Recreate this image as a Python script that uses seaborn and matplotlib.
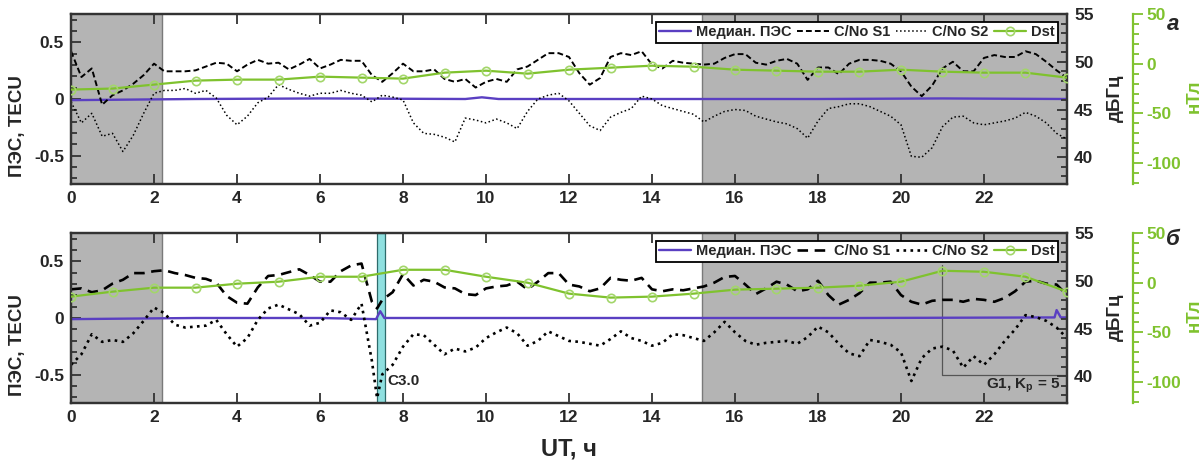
import numpy as np
import matplotlib
matplotlib.use("Agg")
import matplotlib.pyplot as plt
import seaborn as sns
from matplotlib.ticker import MultipleLocator

# ---------------------------
# Data
# ---------------------------
ut = np.arange(0, 24.01, 0.25)          # UT, hours (C/No samples)
ut_dst = np.arange(0, 25, 1)            # hourly Dst

# panel a, C/No in dB-Hz
s1_a = [51.1, 48.4, 49.3, 45.5, 46.5, 47.0, 47.7, 48.6, 49.8, 49.0, 49.0, 49.0, 49.1,
        49.5, 49.9, 49.8, 49.0, 49.7, 50.2, 49.8, 49.9, 49.2, 49.7, 50.3, 49.3,
        49.7, 50.2, 50.1, 50.1, 48.6, 47.9, 48.8, 49.8,
        49.0, 49.0, 49.2, 48.2, 47.9, 48.2, 47.3, 47.9, 48.2, 47.9, 49.2, 49.5,
        50.2, 50.9, 50.9, 50.5, 48.8, 47.6, 48.3, 50.5, 50.9, 50.7, 51.1, 49.7,
        49.3, 50.1, 49.9, 49.8, 49.7, 49.8, 50.4, 50.8,
        50.8, 49.9, 49.7, 50.1, 50.3, 49.8, 48.1, 49.4, 49.4, 48.7, 49.8, 50.2,
        50.2, 50.1, 49.8, 49.0, 47.4, 46.4, 47.5, 49.3, 50.0, 49.0, 49.0, 50.4,
        50.7, 50.5, 50.5, 51.1, 50.8, 50.0, 49.1, 48.3]
s2_a = [45.8, 43.6, 44.6, 42.2, 42.5, 40.6, 42.3, 44.6, 46.7, 47.0, 47.0, 47.2, 46.7,
        47.0, 46.2, 44.4, 43.4, 44.3, 45.7, 46.3, 47.6, 47.1, 46.7, 46.4, 46.7,
        46.7, 47.0, 46.7, 46.5, 45.8, 46.5, 46.3, 46.0,
        43.6, 42.5, 42.4, 42.1, 41.6, 44.1, 43.9, 43.6, 44.0, 43.6, 43.0, 44.8,
        46.1, 46.5, 46.7, 45.9, 44.6, 43.3, 42.8, 44.2, 44.7, 45.1, 46.4, 46.1,
        45.4, 45.1, 44.8, 44.5, 43.7, 44.3, 44.8, 45.0,
        44.9, 44.3, 44.0, 43.7, 43.5, 43.0, 42.0, 43.8, 45.1, 45.3, 45.6, 45.6,
        45.3, 44.8, 44.3, 43.4, 40.1, 40.0, 41.0, 43.2, 44.2, 44.3, 43.6, 43.4,
        43.6, 43.8, 44.1, 44.7, 44.3, 43.6, 42.5, 41.9]
dst_a = [-26, -25, -21, -17, -16, -16, -13, -14, -15, -9, -7, -10, -6, -4, -2, -3,
         -6, -7, -8, -8, -6, -8, -9, -9, -14]
med_t_a = [0, 3, 6, 9.5, 9.9, 10.3, 14, 18, 21, 24]
med_a = [-0.01, 0.0, 0.005, 0.0, 0.015, 0.0, 0.0, 0.0, 0.005, 0.0]

# panel b (one extra sample at 7.375 h for the C3.0 fade)
ut_b = np.insert(ut, 30, 7.375)
s1_b = [49.1, 49.2, 48.8, 49.0, 49.7, 50.1, 50.8, 50.8, 51.0, 51.1, 50.8, 50.6, 50.3,
        50.2, 49.8, 48.4, 47.7, 47.6, 49.3, 50.5, 50.6, 50.9, 51.2, 50.6, 49.9,
        49.9, 51.0, 51.6, 51.8, 47.8, 47.1, 48.0, 48.8, 50.7,
        49.5, 50.1, 49.9, 49.3, 49.2, 48.6, 48.5, 49.2, 49.4, 49.5, 49.9, 49.1,
        49.9, 50.8, 50.8, 49.6, 49.4, 48.9, 49.2, 50.3, 50.1, 50.0, 50.3, 49.1,
        48.9, 49.1, 49.0, 49.2, 49.4, 49.8, 50.4, 50.5,
        49.6, 48.6, 49.2, 49.9, 49.6, 48.9, 49.1, 50.0, 48.5, 47.5, 48.0, 48.7,
        49.8, 49.8, 49.9, 48.5, 47.8, 47.5, 47.9, 48.0, 48.0, 47.8, 48.1, 48.0,
        47.8, 48.2, 48.9, 49.9, 50.0, 49.7, 49.6, 48.5]
s2_b = [41.2, 42.3, 44.4, 43.6, 43.8, 43.6, 44.5, 45.8, 47.2, 46.6, 45.4, 45.1, 45.2,
        45.3, 45.9, 44.4, 43.1, 44.0, 45.9, 47.1, 47.5, 47.0, 46.5, 45.3, 45.6,
        46.9, 46.7, 45.9, 47.6, 41.6, 37.7, 40.2, 41.2, 43.1,
        44.4, 44.3, 43.3, 42.3, 42.9, 42.6, 43.0, 44.0, 44.6, 45.1, 44.5, 43.2,
        43.7, 44.7, 44.2, 43.7, 43.6, 43.4, 43.2, 43.9, 44.7, 44.0, 43.7, 43.2,
        43.5, 44.4, 44.3, 44.0, 43.7, 44.6, 45.7, 44.6,
        43.7, 43.3, 43.5, 43.6, 43.7, 43.4, 44.1, 45.2, 44.6, 43.4, 42.4, 42.1,
        43.8, 43.6, 43.3, 42.5, 39.5, 41.9, 42.9, 43.1, 42.7, 40.9, 42.1, 41.2,
        42.3, 43.7, 44.9, 46.4, 46.2, 45.8, 45.1, 44.0]
dst_b = [-14, -9, -5, -5, -1, 1, 6, 6, 13, 13, 6, 0, -11, -15, -14, -11, -7, -6, -5,
         -3, 1, 12, 11, 6, -9]
med_t_b = [0, 3, 6, 7.35, 7.45, 7.55, 7.7, 11, 15, 19, 23.7, 23.75, 23.85, 24]
med_b = [-0.01, 0.0, 0.0, -0.01, 0.06, 0.0, 0.0, 0.0, 0.0, 0.0, 0.005, 0.07, 0.005, 0.005]

night_1 = (0, 2.2)
night_2 = (15.2, 24)
c3_event = (7.37, 7.57)
g1_start = 21

# ---------------------------
# Style
# ---------------------------
sns.set_style("ticks")
plt.rcParams["font.family"] = ["Liberation Sans", "DejaVu Sans"]
plt.rcParams["font.weight"] = "bold"
plt.rcParams["axes.unicode_minus"] = False
plt.rcParams["mathtext.fontset"] = "custom"
plt.rcParams["mathtext.bf"] = "Liberation Sans:bold"
plt.rcParams["mathtext.rm"] = "Liberation Sans:bold"

GRAY = "#b4b4b4"
PURPLE = "#5a3fc2"
GREEN = "#7fc22e"
FRAME = "#333333"

fig = plt.figure(figsize=(12.04, 4.62), dpi=100)
ax_a = fig.add_axes([0.059, 0.6017, 0.8272, 0.368])
ax_b = fig.add_axes([0.059, 0.1277, 0.8272, 0.368])

panels = [
    (ax_a, ut, s1_a, s2_a, dst_a, med_t_a, med_a, (0, (3, 1.6)), 1.4, 1.1, 0.0),
    (ax_b, ut_b, s1_b, s2_b, dst_b, med_t_b, med_b, (0, (4, 2.5)), 1.9, 1.9, 219 / 462),
]

for ax, t, s1, s2, dst, mt, med, s1_ls, s1_lw, s2_lw, dy in panels:
    # night shading
    ax.axvspan(*night_1, color=GRAY, lw=0, zorder=0)
    ax.axvspan(*night_2, color=GRAY, lw=0, zorder=0)
    ax.axvline(night_1[1], color="#7a7a7a", lw=1.0, zorder=0.5)
    ax.axvline(night_2[0], color="#7a7a7a", lw=1.0, zorder=0.5)

    # median TEC (left axis)
    sns.lineplot(x=mt, y=med, ax=ax, color=PURPLE, lw=1.7, legend=False)
    med_line = ax.lines[-1]
    ax.set_xlim(0, 24)
    ax.set_ylim(-0.75, 0.75)
    ax.set_xticks(range(0, 24, 2))
    ax.set_yticks([-0.5, 0, 0.5])
    ax.set_yticklabels(["-0.5", "0", "0.5"])
    ax.yaxis.set_minor_locator(MultipleLocator(0.1))
    ax.tick_params(which="both", direction="in", top=True, right=False,
                   width=1.3, labelsize=12.5, color=FRAME)
    ax.tick_params(which="major", length=7, pad=5)
    ax.tick_params(which="minor", length=4)
    ax.set_xlabel("")
    ax.set_ylabel("")
    for sp in ax.spines.values():
        sp.set_color(FRAME)
        sp.set_linewidth(1.6)

    # C/No (right axis)
    ax2 = ax.twinx()
    sns.lineplot(x=t, y=s1, ax=ax2, color="black", lw=s1_lw, linestyle=s1_ls, legend=False)
    s1_line = ax2.lines[-1]
    sns.lineplot(x=t, y=s2, ax=ax2, color="black", lw=s2_lw, linestyle=":", legend=False)
    s2_line = ax2.lines[-1]
    ax2.set_ylim(37.2, 55)
    ax2.set_yticks([40, 45, 50, 55])
    ax2.yaxis.set_minor_locator(MultipleLocator(1))
    ax2.tick_params(which="both", direction="in", width=1.3, labelsize=12.5, color=FRAME)
    ax2.tick_params(which="major", length=7, pad=5)
    ax2.tick_params(which="minor", length=4)
    ax2.set_ylabel("")
    for sp in ax2.spines.values():
        sp.set_color(FRAME)
        sp.set_linewidth(1.6)

    # Dst (far right axis)
    ax3 = ax.twinx()
    sns.lineplot(x=ut_dst, y=dst, ax=ax3, color=GREEN, lw=1.6, marker="o",
                 markersize=6, markerfacecolor="none", markeredgecolor="#a3d66a",
                 markeredgewidth=1.2, legend=False)
    dst_line = ax3.lines[-1]
    ax3.set_ylim(-121, 50)
    ax3.set_yticks([-100, -50, 0, 50])
    ax3.yaxis.set_minor_locator(MultipleLocator(10))
    ax3.spines["right"].set_position(("axes", 1.066))
    for name, sp in ax3.spines.items():
        sp.set_visible(name == "right")
    ax3.spines["right"].set_color(GREEN)
    ax3.spines["right"].set_linewidth(1.6)
    ax3.tick_params(which="both", direction="out", width=1.3, color=GREEN,
                    labelcolor=GREEN, labelsize=12.5)
    ax3.tick_params(which="major", length=7, pad=3)
    ax3.tick_params(which="minor", length=4)
    ax3.set_ylabel("")

    leg = ax3.legend([med_line, s1_line, s2_line, dst_line],
                     ["Медиан. ПЭС", "C/No S1", "C/No S2", "Dst"],
                     loc="upper right", bbox_to_anchor=(0.991, 0.955),
                     borderaxespad=0, ncol=4, fancybox=False, framealpha=1,
                     edgecolor="black", prop=dict(weight="bold", size=10.5),
                     handlelength=2.2, handletextpad=0.3, columnspacing=0.4,
                     borderpad=0.25)
    leg.get_frame().set_linewidth(1.3)

    # axis titles, placed in figure coordinates
    fig.text(18 / 1204, 1 - 126 / 462 - dy, "ПЭС, TECU", rotation=90, fontsize=13.5,
             fontweight="bold", ha="center", va="center")
    fig.text(1115 / 1204, 1 - 98 / 462 - dy, "дБГц", rotation=90, fontsize=13.5,
             fontweight="bold", ha="center", va="center")
    fig.text(1194 / 1204, 1 - 96 / 462 - dy, "нТл", rotation=90, fontsize=13.5,
             fontweight="bold", ha="center", va="center", color=GREEN)

# panel b extras: C3.0 flare band and G1 storm bracket
ax_b.axvspan(*c3_event, facecolor="#8fe0e0", edgecolor="#2e6b6b", lw=0.9, zorder=0.6)
ax_b.text(7.62, -0.56, "C3.0", fontsize=11, fontweight="bold", ha="left", va="center")
ax_b.plot([g1_start, g1_start, 24], [0.47, -0.5, -0.5], color="#555555", lw=0.9, zorder=0.7)
ax_b.text(23.85, -0.6, r"G1, K$_{\mathbf{p}}$ = 5", fontsize=11, fontweight="bold",
          ha="right", va="center")
ax_b.set_xlabel("UT, ч", fontsize=17, fontweight="bold", labelpad=9)

fig.text(0.974, 1 - 24 / 462, "а", fontsize=16, fontweight="bold", style="italic",
         ha="center", va="center")
fig.text(0.974, 1 - 240 / 462, "б", fontsize=16, fontweight="bold", style="italic",
         ha="center", va="center")

fig.savefig("out.png", dpi=100)
